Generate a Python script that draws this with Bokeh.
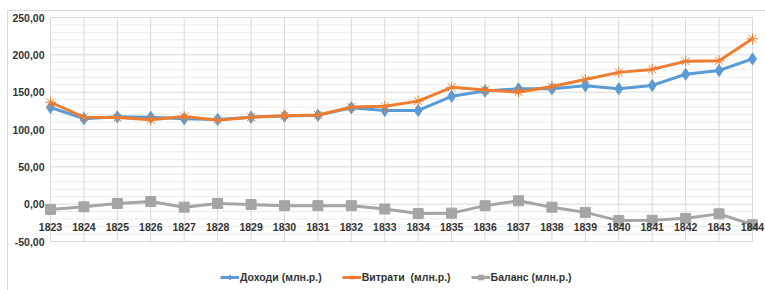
from bokeh.plotting import figure
from bokeh.models import ColumnDataSource, Range1d, Legend, LegendItem
from bokeh.core.properties import value
from bokeh.embed import file_html
from bokeh.resources import INLINE

years = [1823, 1824, 1825, 1826, 1827, 1828, 1829, 1830, 1831, 1832, 1833,
         1834, 1835, 1836, 1837, 1838, 1839, 1840, 1841, 1842, 1843, 1844]
income = [129.5, 114.5, 117.0, 116.5, 114.5, 113.5, 116.5, 118.0, 119.0, 129.0, 125.5,
          125.5, 144.5, 151.5, 154.5, 154.5, 158.5, 154.5, 159.0, 174.0, 179.0, 194.5]
expense = [136.5, 116.5, 116.0, 113.0, 117.5, 112.5, 116.5, 118.5, 119.5, 130.0, 131.0,
           138.0, 156.5, 153.0, 150.0, 157.5, 167.0, 176.5, 180.5, 191.5, 192.0, 221.5]
balance = [-7.0, -3.5, 1.0, 3.5, -4.0, 1.0, -0.5, -2.0, -2.0, -2.0, -6.5,
           -12.5, -12.0, -2.0, 4.5, -4.0, -11.0, -22.0, -21.5, -19.0, -13.0, -27.5]
year_labels = [str(y) for y in years]
y_ticks = [-50, 0, 50, 100, 150, 200, 250]
y_tick_labels = ["-50,00", "0,00", "50,00", "100,00", "150,00", "200,00", "250,00"]
y_minor_ticks = [v for v in range(-50, 251, 10) if v % 50 != 0]
labels = ["Доходи (млн.р.)", "Витрати  (млн.р.)", "Баланс (млн.р.)"]

# ---- layout in pixels (canvas == plot frame) ----
W, H = 765, 290
PX_FIRST, PX_LAST = 50, 752      # x pixel of first / last category
PY_TOP, PY_BOT = 17, 241         # y pixel of top / bottom tick
BORDER_X, BORDER_Y = 7, 10       # light chart-area border (left, top)

ppx = (PX_LAST - PX_FIRST) / (years[-1] - years[0])
ppy = (PY_BOT - PY_TOP) / (y_ticks[-1] - y_ticks[0])
x0 = years[0] - PX_FIRST / ppx
x1 = years[-1] + (W - PX_LAST) / ppx
y1 = y_ticks[-1] + PY_TOP / ppy
y0 = y_ticks[0] - (H - PY_BOT) / ppy


def data_x(px):
    return x0 + px / ppx


def data_y(py):
    return y1 - py / ppy


p = figure(width=W, height=H, output_backend="svg", toolbar_location=None,
           x_range=Range1d(x0, x1), y_range=Range1d(y0, y1),
           min_border=0, min_border_left=0, min_border_right=0,
           min_border_top=0, min_border_bottom=0)
p.xaxis.visible = False
p.yaxis.visible = False
p.xgrid.visible = False
p.ygrid.visible = False
p.outline_line_color = None
p.background_fill_color = "white"
p.border_fill_color = "white"

FONT = "Liberation Sans"
LBL = "#333333"
FS = "10.5px"
GRID = "#d9d9d9"
GRID_MINOR = "#ececec"

# chart-area border
bx, by = data_x(BORDER_X), data_y(BORDER_Y)
p.segment(x0=[bx, bx], y0=[by, by], x1=[x1, bx], y1=[by, y0], line_color=GRID,
          line_width=1)

# gridlines
n_min = len(y_minor_ticks)
p.segment(x0=[years[0]] * n_min, x1=[years[-1]] * n_min, y0=y_minor_ticks,
          y1=y_minor_ticks, line_color=GRID_MINOR, line_width=1)
n_maj = len(y_ticks)
p.segment(x0=[years[0]] * n_maj, x1=[years[-1]] * n_maj, y0=y_ticks, y1=y_ticks,
          line_color=GRID, line_width=1)
n_y = len(years)
p.segment(x0=years, x1=years, y0=[y_ticks[0]] * n_y, y1=[y_ticks[-1]] * n_y,
          line_color=GRID, line_width=1)

# y tick labels
p.text(x=[years[0]] * n_maj, y=y_ticks, text=y_tick_labels, text_font=value(FONT),
       text_font_style="bold", text_font_size=FS, text_color=LBL,
       text_align="right", text_baseline="middle", x_offset=-6)

src = ColumnDataSource(dict(x=years, inc=income, exp=expense, bal=balance,
                            zero=[0] * n_y, lab=year_labels))

BLUE = "#5b9bd5"
ORANGE = "#ed7d31"
GRAY = "#a5a5a5"

l1 = p.line("x", "inc", source=src, line_color=BLUE, line_width=3)
m1 = p.scatter("x", "inc", source=src, marker="diamond", size=12, fill_color=BLUE,
               line_color=BLUE)
l2 = p.line("x", "exp", source=src, line_color=ORANGE, line_width=3)
m2 = p.scatter("x", "exp", source=src, marker="asterisk", size=11, line_color=ORANGE,
               line_width=1)
l3 = p.line("x", "bal", source=src, line_color=GRAY, line_width=3)
m3 = p.scatter("x", "bal", source=src, marker="square", size=10, fill_color=GRAY,
               line_color=GRAY)

# category labels just below the zero line (Excel axis crossing at 0)
p.text("x", "zero", text="lab", source=src, text_font=value(FONT),
       text_font_style="bold", text_font_size=FS, text_color=LBL,
       text_align="center", text_baseline="middle", y_offset=23)

legend = Legend(items=[LegendItem(label=labels[0], renderers=[l1, m1]),
                       LegendItem(label=labels[1], renderers=[l2, m2]),
                       LegendItem(label=labels[2], renderers=[l3, m3])],
                orientation="horizontal", location=(220, 7),
                glyph_width=19, glyph_height=12, label_height=12, label_standoff=1,
                spacing=20, padding=0, margin=0, border_line_color=None,
                background_fill_alpha=0,
                label_text_font=FONT, label_text_font_style="bold",
                label_text_font_size=FS, label_text_color=LBL)
p.add_layout(legend, "center")

open("out.html", "w").write(file_html(p, INLINE))
